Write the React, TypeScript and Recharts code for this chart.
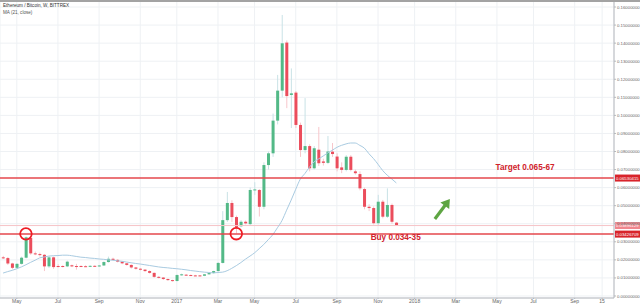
import React from 'react';
import { ComposedChart, Bar, Line, XAxis, YAxis, CartesianGrid, ReferenceLine, ReferenceDot } from 'recharts';

// Weekly bars, Ethereum / Bitcoin, BITTREX
const weeks = [
  '2016-04-11','2016-04-18','2016-04-25','2016-05-02','2016-05-09','2016-05-16','2016-05-23','2016-05-30',
  '2016-06-06','2016-06-13','2016-06-20','2016-06-27','2016-07-04','2016-07-11','2016-07-18','2016-07-25',
  '2016-08-01','2016-08-08','2016-08-15','2016-08-22','2016-08-29','2016-09-05','2016-09-12','2016-09-19',
  '2016-09-26','2016-10-03','2016-10-10','2016-10-17','2016-10-24','2016-10-31','2016-11-07','2016-11-14',
  '2016-11-21','2016-11-28','2016-12-05','2016-12-12','2016-12-19','2016-12-26',
  '2017-01-02','2017-01-09','2017-01-16','2017-01-23','2017-01-30','2017-02-06','2017-02-13','2017-02-20',
  '2017-02-27','2017-03-06','2017-03-13','2017-03-20','2017-03-27','2017-04-03','2017-04-10','2017-04-17',
  '2017-04-24','2017-05-01','2017-05-08','2017-05-15','2017-05-22','2017-05-29','2017-06-05','2017-06-12',
  '2017-06-19','2017-06-26','2017-07-03','2017-07-10','2017-07-17','2017-07-24','2017-07-31','2017-08-07',
  '2017-08-14','2017-08-21','2017-08-28','2017-09-04','2017-09-11','2017-09-18','2017-09-25','2017-10-02',
  '2017-10-09','2017-10-16','2017-10-23','2017-10-30','2017-11-06','2017-11-13','2017-11-20','2017-11-27',
  '2017-12-04',
];

const opens = [
  0.0214,0.0210,0.0180,0.0156,0.0178,0.0212,0.0322,0.0236,0.0232,0.0228,0.0164,0.0214,0.0166,0.0166,0.0164,0.0170,
  0.0166,0.0166,0.0165,0.0163,0.0167,0.0165,0.0169,0.0188,0.0206,0.0200,0.0190,0.0181,0.0172,0.0158,0.0151,0.0146,
  0.0138,0.0128,0.0106,0.0102,0.0094,0.0088,
  0.0083,0.0116,0.0118,0.0116,0.0114,0.0114,0.0112,0.0120,0.0127,0.0138,0.0183,0.0420,0.0515,0.0437,0.0386,0.0411,
  0.0398,0.0585,0.0587,0.0494,0.0725,0.0790,0.0971,0.1137,0.1403,0.1113,0.1126,0.0947,0.0808,0.0830,0.0707,0.0810,
  0.0745,0.0737,0.0799,0.0772,0.0712,0.0698,0.0771,0.0690,0.0675,0.0592,0.0494,0.0487,0.0403,0.0522,0.0439,0.0504,
  0.0406,
];
const highs = [
  0.0222,0.0216,0.0184,0.0182,0.0218,0.0330,0.0326,0.0246,0.0240,0.0232,0.0222,0.0218,0.0176,0.0170,0.0196,0.0174,
  0.0178,0.0170,0.0170,0.0170,0.0170,0.0172,0.0192,0.0218,0.0212,0.0204,0.0192,0.0183,0.0175,0.0161,0.0154,0.0148,
  0.0142,0.0130,0.0110,0.0105,0.0097,0.0090,
  0.0120,0.0124,0.0121,0.0119,0.0117,0.0116,0.0122,0.0130,0.0140,0.0188,0.0470,0.0576,0.0530,0.0445,0.0420,0.0418,
  0.0600,0.0630,0.0592,0.0740,0.0800,0.1010,0.1224,0.1556,0.1415,0.1260,0.1135,0.0960,0.1096,0.0840,0.0830,0.0936,
  0.0760,0.0886,0.0847,0.0790,0.0740,0.0780,0.0780,0.0700,0.0690,0.0600,0.0508,0.0496,0.0560,0.0532,0.0596,0.0512,
  0.0410,
];
const lows = [
  0.0205,0.0172,0.0148,0.0150,0.0174,0.0208,0.0228,0.0226,0.0218,0.0138,0.0155,0.0150,0.0158,0.0158,0.0160,0.0160,
  0.0146,0.0160,0.0160,0.0160,0.0162,0.0162,0.0166,0.0185,0.0196,0.0186,0.0176,0.0168,0.0152,0.0146,0.0142,0.0134,
  0.0124,0.0100,0.0097,0.0089,0.0084,0.0080,
  0.0080,0.0112,0.0112,0.0111,0.0110,0.0110,0.0110,0.0118,0.0124,0.0135,0.0180,0.0410,0.0410,0.0345,0.0380,0.0396,
  0.0390,0.0560,0.0440,0.0480,0.0700,0.0770,0.0950,0.1100,0.1040,0.0930,0.0930,0.0770,0.0790,0.0690,0.0700,0.0720,
  0.0722,0.0730,0.0770,0.0690,0.0680,0.0690,0.0690,0.0672,0.0585,0.0480,0.0470,0.0396,0.0388,0.0430,0.0432,0.0400,
  0.0389,
];
const closes = [
  0.0210,0.0180,0.0156,0.0178,0.0212,0.0325,0.0236,0.0232,0.0228,0.0164,0.0214,0.0160,0.0164,0.0162,0.0190,0.0164,
  0.0162,0.0164,0.0163,0.0167,0.0165,0.0169,0.0188,0.0206,0.0200,0.0190,0.0181,0.0172,0.0158,0.0151,0.0146,0.0138,
  0.0128,0.0106,0.0102,0.0094,0.0088,0.0083,
  0.0116,0.0120,0.0116,0.0114,0.0113,0.0112,0.0120,0.0127,0.0138,0.0183,0.0420,0.0515,0.0437,0.0380,0.0411,0.0402,
  0.0587,0.0590,0.0494,0.0725,0.0790,0.0971,0.1137,0.1399,0.1107,0.1122,0.0947,0.0808,0.0830,0.0707,0.0818,0.0735,
  0.0737,0.0800,0.0786,0.0707,0.0698,0.0771,0.0698,0.0680,0.0596,0.0494,0.0487,0.0403,0.0522,0.0439,0.0504,0.0411,
  0.0392,
];
// MA (21, close)
const ma21 = [
  0.0127,0.0135,0.0142,0.0151,0.0161,0.0173,0.0186,0.0198,0.0211,0.0216,0.0221,0.0223,0.0224,0.0226,0.0226,0.0223,
  0.0219,0.0215,0.0213,0.0210,0.0208,0.0205,0.0203,0.0200,0.0198,0.0195,0.0192,0.0188,0.0184,0.0180,0.0177,0.0173,
  0.0169,0.0165,0.0161,0.0158,0.0156,0.0153,
  0.0151,0.0148,0.0145,0.0141,0.0138,0.0135,0.0132,0.0130,0.0128,0.0130,0.0132,0.0140,0.0153,0.0168,0.0185,0.0204,
  0.0221,0.0239,0.0262,0.0285,0.0312,0.0340,0.0378,0.0418,0.0475,0.0531,0.0591,0.0647,0.0678,0.0713,0.0742,0.0759,
  0.0775,0.0792,0.0807,0.0823,0.0834,0.0842,0.0847,0.0847,0.0834,0.0819,0.0788,0.0761,0.0729,0.0695,0.0669,0.0648,
  0.0626,
];

const xTickDates = ['2016-05-02','2016-07-04','2016-09-05','2016-11-07','2017-01-02','2017-03-06','2017-05-01','2017-07-03',
  '2017-09-04','2017-11-06','2018-01-01','2018-03-05','2018-05-07','2018-07-02','2018-09-03','2018-10-15'];
const xTickLabels = ['May','Jul','Sep','Nov','2017','Mar','May','Jul','Sep','Nov','2018','Mar','May','Jul','Sep','15'];
const yTicks = [0,0.01,0.02,0.03,0.04,0.05,0.06,0.07,0.08,0.09,0.10,0.11,0.12,0.13,0.14,0.15,0.16];

const targetLevel = 0.0653;
const buyLevel = 0.03427;
const lastPrice = 0.0390;
const tagTexts = ['0.06530415', '0.03426709', '0.03896129'];
const circleMarks = [{ d: '2016-05-16', v: 0.0344 }, { d: '2017-04-03', v: 0.0345 }];
const notes = [
  { d: '2018-06-19', v: 0.0700, text: 'Target 0.065-67' },
  { d: '2017-12-03', v: 0.0308, text: 'Buy 0.034-35' },
];
const arrowTip = { d: '2018-02-24', v: 0.0537 };

const day = (s: string) => (Date.parse(s + 'T00:00:00Z') - Date.parse('2017-01-01T00:00:00Z')) / 86400000;

const data = weeks.map((w, i) => ({
  t: day(w), o: opens[i], h: highs[i], l: lows[i], c: closes[i], ma: ma21[i],
}));
const xTicks = xTickDates.map(day);

const UP = '#53b987';
const DOWN = '#eb4d5c';
const FONT = '"Liberation Sans", Arial, sans-serif';

const Candle = (props: any) => {
  const { x, y, width, height, payload } = props;
  if (!payload) return null;
  const { o, h, l, c } = payload;
  const top = Math.min(y, y + height);
  const bot = Math.max(y, y + height);
  const span = h - l || 1;
  const py = (v: number) => top + ((h - v) / span) * (bot - top);
  const up = c >= o;
  const cx = x + width / 2;
  const bt = py(Math.max(o, c));
  const bb = py(Math.min(o, c));
  return (
    <g>
      <line x1={cx} x2={cx} y1={top} y2={bot} stroke={up ? '#c9e2e6' : '#f7c6cb'} strokeWidth={1} />
      <rect x={x} y={bt} width={width} height={Math.max(1, bb - bt)} fill={up ? UP : DOWN} />
    </g>
  );
};

const makeTag = (text: string, fill: string) => (p: any) => {
  const vb = p.viewBox || {};
  const xr = (vb.x || 0) + (vb.width || 0);
  const y = vb.y || 0;
  return (
    <g>
      <rect x={xr + 1} y={y - 3.5} width={25} height={7} fill={fill} />
      <text x={xr + 2} y={y + 1.6} fontSize={4.3} fill="#ffffff" fontFamily={FONT}>{text}</text>
    </g>
  );
};

const NoteShape = (text: string) => (p: any) => (
  <text x={p.cx} y={p.cy} textAnchor="middle" fontSize={8.2} fontWeight="bold" fill="#d0222b" fontFamily={FONT}>{text}</text>
);

const ArrowShape = (p: any) => (
  <g transform={`translate(${p.cx},${p.cy}) rotate(-53)`}>
    <line x1={-25} y1={0} x2={-6} y2={0} stroke="#5ea543" strokeWidth={3.2} />
    <polygon points="0,0 -8.5,-5.5 -8.5,5.5" fill="#5ea543" />
  </g>
);

const CircleShape = (p: any) => (
  <circle cx={p.cx} cy={p.cy} r={5.8} fill="none" stroke="#ee1c24" strokeWidth={1.8} />
);

export default function App() {
  return (
    <div style={{ position: 'absolute', left: 0, top: 0, width: 640, height: 305, background: '#ffffff', overflow: 'hidden' }}>
      <ComposedChart width={640} height={305} data={data} margin={{ top: 0, right: 0, left: 0, bottom: 0 }}>
        <CartesianGrid stroke="#eef1f4" strokeWidth={1} />
        <XAxis
          dataKey="t"
          type="number"
          domain={[-269.7, 670.2]}
          allowDataOverflow
          ticks={xTicks}
          interval={0}
          height={7}
          tickSize={1}
          tickMargin={0}
          tick={{ fontSize: 5, fill: '#666', fontFamily: FONT }}
          tickFormatter={(v: number) => { const k = xTicks.indexOf(v); return k >= 0 ? xTickLabels[k] : ''; }}
          axisLine={{ stroke: '#b5b8be' }}
          tickLine={{ stroke: '#b5b8be' }}
        />
        <YAxis
          orientation="right"
          type="number"
          domain={[-0.00111, 0.16388]}
          allowDataOverflow
          ticks={yTicks}
          interval={0}
          width={26}
          tickSize={2}
          tickMargin={1}
          tick={{ fontSize: 4.3, fill: '#666', fontFamily: FONT, textAnchor: 'start' }}
          tickFormatter={(v: number) => v.toFixed(8)}
          axisLine={{ stroke: '#b5b8be' }}
          tickLine={{ stroke: '#b5b8be' }}
        />
        <ReferenceLine y={lastPrice} stroke="#f6c4c7" strokeWidth={1} label={makeTag(tagTexts[2], '#f0868d')} />
        <Bar dataKey={(d: any) => [d.l, d.h]} barSize={3} shape={Candle} isAnimationActive={false} />
        <Line dataKey="ma" type="monotone" dot={false} stroke="#a9cbe1" strokeWidth={1} isAnimationActive={false} />
        <ReferenceLine y={targetLevel} stroke="#e4474d" strokeWidth={1.5} label={makeTag(tagTexts[0], '#d8232a')} />
        <ReferenceLine y={buyLevel} stroke="#e4474d" strokeWidth={1.5} label={makeTag(tagTexts[1], '#d8232a')} />
        {circleMarks.map((m, k) => (
          <ReferenceDot key={'c' + k} x={day(m.d)} y={m.v} r={6} shape={CircleShape} />
        ))}
        {notes.map((n, k) => (
          <ReferenceDot key={'n' + k} x={day(n.d)} y={n.v} r={0} shape={NoteShape(n.text)} />
        ))}
        <ReferenceDot x={day(arrowTip.d)} y={arrowTip.v} r={0} shape={ArrowShape} />
      </ComposedChart>
      <div style={{ position: 'absolute', left: 0, top: 0, width: 640, height: 1.5, background: '#a3a3a3' }} />
      <div style={{ position: 'absolute', left: 3, top: 3, fontFamily: FONT, fontSize: 4.6, color: '#333', lineHeight: '6.5px' }}>
        <div>Ethereum / Bitcoin, W, BITTREX</div>
        <div style={{ color: '#555' }}>MA (21, close)</div>
      </div>
    </div>
  );
}
